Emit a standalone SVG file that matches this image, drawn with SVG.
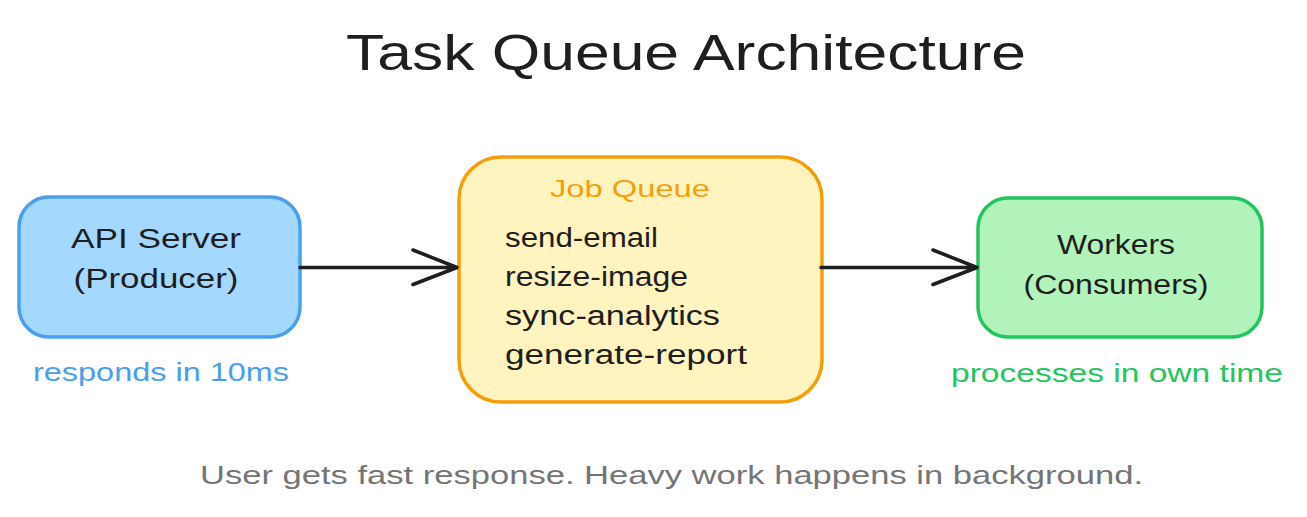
<svg xmlns="http://www.w3.org/2000/svg" width="1307" height="517" viewBox="0 0 1307 517">
  <style>
    text { font-family: "Liberation Sans", "DejaVu Sans", sans-serif; fill: #1e1e1e; }
    .title { font-size: 50px; }
    .label { font-size: 27px; text-anchor: middle; }
    .item { font-size: 27px; }
    .qtitle { font-size: 24px; fill: #f59e0b; text-anchor: middle; }
    .note { font-size: 26px; }
    .blue { fill: #4a9eed; }
    .green { fill: #22c55e; }
    .foot { font-size: 26px; fill: #757575; }
    .box { stroke-width: 3.5; }
    .conn { fill: none; stroke: #1e1e1e; stroke-width: 3.5; stroke-linecap: round; stroke-linejoin: round; }
  </style>
  <rect width="1307" height="517" fill="#ffffff"/>

  <text id="title" class="title" x="346" y="70" textLength="680" lengthAdjust="spacingAndGlyphs">Task Queue Architecture</text>

  <g id="api-server">
    <rect class="box" x="19" y="197" width="281" height="140" rx="30" ry="30" fill="#a5d8ff" stroke="#4a9eed"/>
    <text class="label" x="156" y="248" textLength="170" lengthAdjust="spacingAndGlyphs">API Server</text>
    <text class="label" x="156" y="288" textLength="165" lengthAdjust="spacingAndGlyphs">(Producer)</text>
  </g>

  <g id="job-queue">
    <rect class="box" x="459" y="157" width="363" height="245" rx="42" ry="42" fill="#fff3bf" stroke="#f59e0b"/>
    <text class="qtitle" x="630" y="197" textLength="160" lengthAdjust="spacingAndGlyphs">Job Queue</text>
    <text class="item" x="505" y="247" textLength="153" lengthAdjust="spacingAndGlyphs">send-email</text>
    <text class="item" x="505" y="286" textLength="183" lengthAdjust="spacingAndGlyphs">resize-image</text>
    <text class="item" x="505" y="325" textLength="215" lengthAdjust="spacingAndGlyphs">sync-analytics</text>
    <text class="item" x="505" y="364" textLength="242" lengthAdjust="spacingAndGlyphs">generate-report</text>
  </g>

  <g id="workers">
    <rect class="box" x="978" y="198" width="284" height="139" rx="30" ry="30" fill="#b2f2bb" stroke="#22c55e"/>
    <text class="label" x="1116" y="254" textLength="118" lengthAdjust="spacingAndGlyphs">Workers</text>
    <text class="label" x="1116" y="294" textLength="185" lengthAdjust="spacingAndGlyphs">(Consumers)</text>
  </g>

  <g id="notes">
    <text class="note blue" x="33" y="381" textLength="256" lengthAdjust="spacingAndGlyphs">responds in 10ms</text>
    <text class="note green" x="951" y="382" textLength="332" lengthAdjust="spacingAndGlyphs">processes in own time</text>
    <text class="foot" x="200" y="484" textLength="943" lengthAdjust="spacingAndGlyphs">User gets fast response. Heavy work happens in background.</text>
  </g>

  <g id="connectors">
    <path class="conn" d="M300 267.5 L457 267.5 M413 250 L457 267.5 L413 284.5"/>
    <path class="conn" d="M821 267.5 L977 267.5 M933 250 L977 267.5 L933 284.5"/>
  </g>
</svg>
